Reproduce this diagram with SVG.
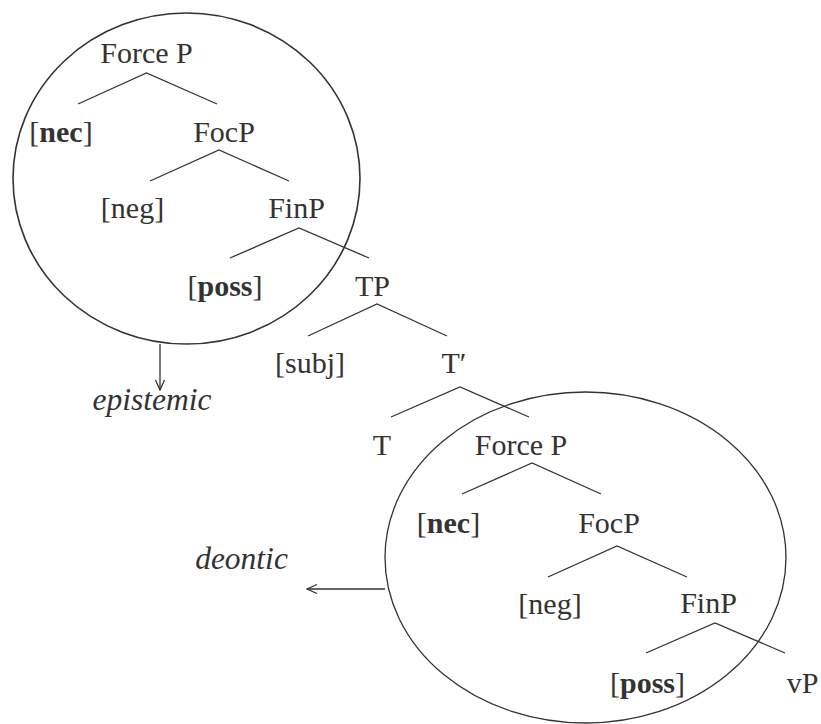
<svg xmlns="http://www.w3.org/2000/svg" width="821" height="724" viewBox="0 0 821 724">
  <style>
    text { font-family: "Liberation Serif", "Times New Roman", serif; font-size: 30px; fill: #333; text-anchor: middle; }
    .b { font-weight: bold; }
    .i { font-style: italic; font-size: 31.5px; }
    .edge { stroke: #333; stroke-width: 1.3; fill: none; }
    .ring { stroke: #333; fill: none; }
  </style>
  <defs>
    <marker id="open" viewBox="0 0 12 12" refX="11" refY="6" markerWidth="12" markerHeight="12" markerUnits="userSpaceOnUse" orient="auto">
      <polyline points="1,1.5 11,6 1,10.5" fill="none" stroke="#333" stroke-width="1.3"/>
    </marker>
  </defs>

  <rect width="821" height="724" fill="#fff"/>

  <!-- domain rings -->
  <g id="ring-epistemic"><ellipse class="ring" cx="186.5" cy="178.5" rx="173.5" ry="165.5" stroke-width="1.6"/></g>
  <g id="ring-deontic"><ellipse class="ring" cx="585.5" cy="557.5" rx="200.5" ry="165.5" stroke-width="1.3"/></g>

  <!-- tree branches and arrows -->
  <g id="connectors">
    <polyline class="edge" points="78,104 146.5,73 217,104"/>
    <polyline class="edge" points="150,181 219,150 289,181"/>
    <polyline class="edge" points="230,258 299,228 369,258"/>
    <polyline class="edge" points="308,336 377,304 447,336"/>
    <polyline class="edge" points="391,417 460,387 529,417"/>
    <polyline class="edge" points="462,494 532,463 601,494"/>
    <polyline class="edge" points="548,577 617,546 687,577"/>
    <polyline class="edge" points="646,653 715,623 785,653"/>
    <line class="edge" x1="160" y1="344" x2="160" y2="390" marker-end="url(#open)"/>
    <line class="edge" x1="385" y1="589" x2="307" y2="589" marker-end="url(#open)"/>
  </g>

  <!-- upper tree -->
  <g id="forceP1"><text x="146.5" y="63">Force P</text></g>
  <g id="nec1"><text x="61" y="142">[<tspan class="b">nec</tspan>]</text></g>
  <g id="focP1"><text x="224" y="142">FocP</text></g>
  <g id="neg1"><text x="132.5" y="218">[neg]</text></g>
  <g id="finP1"><text x="296.5" y="218">FinP</text></g>
  <g id="poss1"><text x="225" y="296">[<tspan class="b">poss</tspan>]</text></g>
  <g id="TP"><text x="372.5" y="296">TP</text></g>
  <g id="subj"><text x="310" y="373">[subj]</text></g>
  <g id="Tbar"><text x="454" y="373">T′</text></g>
  <g id="T"><text x="382" y="455">T</text></g>

  <!-- lower tree -->
  <g id="forceP2"><text x="521" y="455">Force P</text></g>
  <g id="nec2"><text x="448.5" y="533">[<tspan class="b">nec</tspan>]</text></g>
  <g id="focP2"><text x="609" y="533">FocP</text></g>
  <g id="neg2"><text x="550" y="614">[neg]</text></g>
  <g id="finP2"><text x="708.5" y="613">FinP</text></g>
  <g id="poss2"><text x="647.5" y="693">[<tspan class="b">poss</tspan>]</text></g>
  <g id="vP"><text x="802.5" y="693">vP</text></g>

  <!-- labels -->
  <g id="epistemic"><text class="i" x="152" y="410">epistemic</text></g>
  <g id="deontic"><text class="i" x="241.5" y="569">deontic</text></g>
</svg>
